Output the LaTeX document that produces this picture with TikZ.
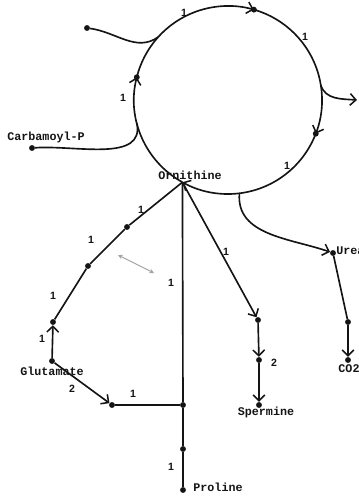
\documentclass[tikz,border=0pt]{standalone}
\usepackage{fontspec}
\setmonofont{Liberation Mono}
\setsansfont{Liberation Sans}
\usetikzlibrary{arrows.meta, calc}
\definecolor{PathInk}{RGB}{20,20,20}
\definecolor{HintGray}{RGB}{165,165,165}

\begin{document}
\begin{tikzpicture}[x=0.03cm, y=-0.03cm,
          met/.style={font=\ttfamily\bfseries\fontsize{10}{12}\selectfont,
                      inner sep=1pt, text=PathInk},
          num/.style={font=\sffamily\bfseries\fontsize{9}{10}\selectfont,
                      inner sep=1pt, text=PathInk},
          pt/.style={circle, fill=PathInk, inner sep=0pt, minimum size=5pt},
          flow/.style={line width=1.4pt, draw=PathInk},
          arr/.style={flow, -{Straight Barb[length=5pt, width=10pt, line width=1.3pt]}}
        ]
        \useasboundingbox (0,0) rectangle (358,496);

        % Ornithine cycle
        \coordinate (cen) at (228,100);
        \def\rcyc{2.82cm}
        \coordinate (orn)  at ($(cen)+(241:\rcyc)$);
        \coordinate (jcp)  at ($(cen)+(194:\rcyc)$);
        \coordinate (cl)   at ($(cen)+(166:\rcyc)$);
        \coordinate (jtl)  at ($(cen)+(138:\rcyc)$);
        \coordinate (ct)   at ($(cen)+(74:\rcyc)$);
        \coordinate (jrt)  at ($(cen)+(9:\rcyc)$);
        \coordinate (cr)   at ($(cen)+(-21:\rcyc)$);
        \coordinate (jur)  at ($(cen)+(-83:\rcyc)$);

        \draw[arr] (orn) arc[start angle=241, end angle=166, radius=\rcyc];
        \draw[arr] (cl)  arc[start angle=166, end angle=74,  radius=\rcyc];
        \draw[arr] (ct)  arc[start angle=74,  end angle=-21, radius=\rcyc];
        \draw[arr] (cr)  arc[start angle=-21, end angle=-119, radius=\rcyc];
        \node[pt] at (cl) {};
        \node[pt] at (ct) {};
        \node[pt] at (cr) {};

        \node[num] (n1) at (184,13)  {1};
        \node[num] (n2) at (305,37)  {1};
        \node[num] (n3) at (287,166) {1};
        \node[num] (n4) at (123,98)  {1};

        % Inputs and outputs of the cycle
        \node[pt] (tl) at (87,28) {};
        \draw[flow] (tl) to[out=-8, in=215] (jtl);

        \node[pt] (cp) at (32,148) {};
        \node[met] at (46,137) {Carbamoyl-P};
        \draw[flow] (cp) to[out=4, in=282] (jcp);

        \coordinate (out) at (357,100);
        \draw[arr] (jrt) to[out=-72, in=176] (out);

        \node[pt] (urea) at (333,253) {};
        \node[met, anchor=west] at (335,251) {Urea};
        \draw[arr] (jur) to[out=-95, in=161] (urea);

        \node[pt] (c1) at (348,322) {};
        \node[pt] (co2) at (348,360) {};
        \node[met] at (349,369) {CO2};
        \draw[flow] (urea) -- (c1);
        \draw[arr] (c1) -- (co2);

        % Ornithine and its branches
        \node[met] at (190,175) {Ornithine};

        \node[pt] (glu) at (52,361) {};
        \node[met] at (52,371) {Glutamate};
        \node[pt] (g1) at (53,322) {};
        \node[pt] (g2) at (88,266) {};
        \node[pt] (g3) at (127,227) {};
        \draw[arr] (glu) -- (g1);
        \draw[flow] (g1) -- (g2) -- (g3) -- (orn);
        \node[num] at (42,339)  {1};
        \node[num] at (53,296)  {1};
        \node[num] at (91,240)  {1};
        \node[num] at (141,210) {1};

        \node[pt] (g4) at (112,405) {};
        \node[pt] (pj1) at (183,405) {};
        \node[pt] (pj2) at (183,449) {};
        \node[pt] (pro) at (183,490) {};
        \node[met] at (218,487) {Proline};
        \draw[arr] (glu) -- (g4);
        \draw[flow] (g4) -- (pj1);
        \draw[flow] (orn) -- (pj1) -- (pj2) -- (pro);
        \node[num] at (72,389)  {2};
        \node[num] at (133,394) {1};
        \node[num] at (171,283) {1};
        \node[num] at (171,467) {1};

        \node[pt] (s1) at (258,320) {};
        \node[pt] (s2) at (259,360) {};
        \node[pt] (spm) at (259,405) {};
        \node[met] at (266,412) {Spermine};
        \draw[arr] (orn) -- (s1);
        \draw[arr] (s1) -- (s2);
        \draw[arr] (s2) -- (spm);
        \node[num] at (226,252) {1};
        \node[num] at (274,363) {2};

        % grey hint arrow
        \coordinate (h1) at (118,255);
        \coordinate (h2) at (154,273);
        \draw[HintGray, line width=0.9pt,
              {Stealth[length=4pt, width=4pt]}-{Stealth[length=4pt, width=4pt]}] (h1) -- (h2);
      \end{tikzpicture}
\end{document}
